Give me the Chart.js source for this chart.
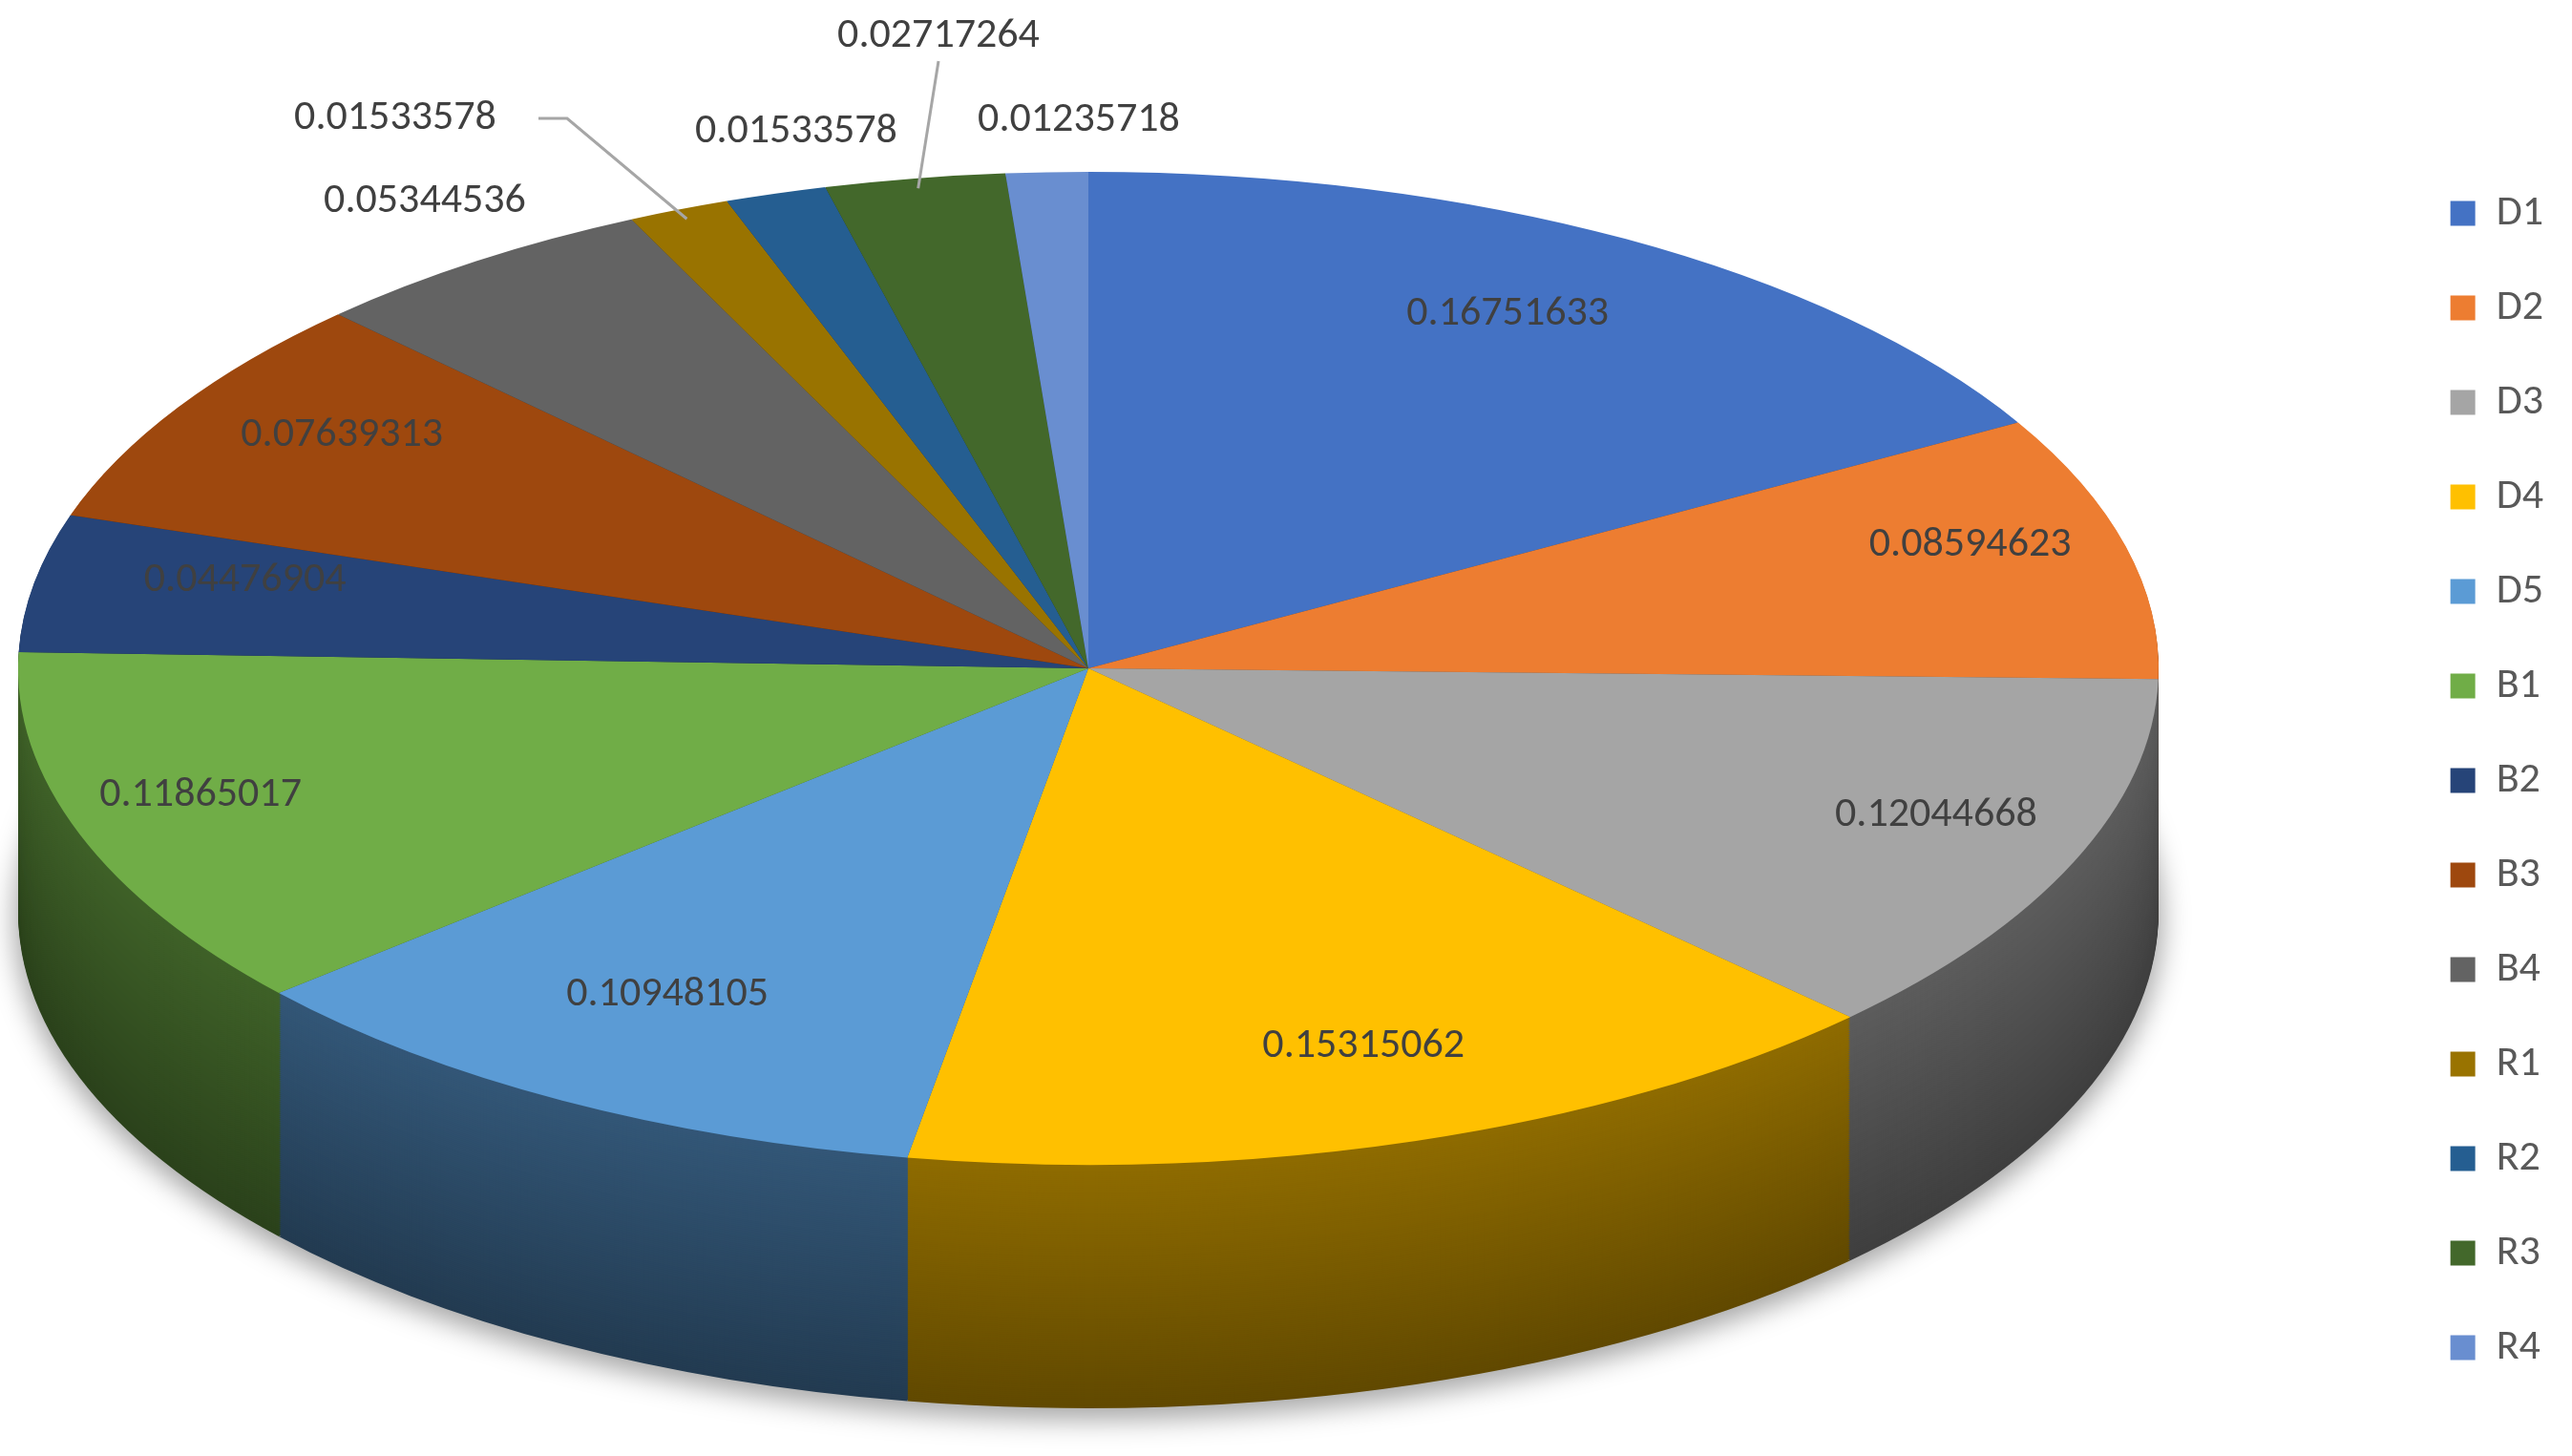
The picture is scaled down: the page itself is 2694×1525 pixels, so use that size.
<!DOCTYPE html>
<html><head><meta charset="utf-8">
<script src="https://cdn.jsdelivr.net/npm/chart.js@4/dist/chart.umd.min.js"></script>
<style>html,body{margin:0;padding:0;background:#fff}#wrap{width:2694px;height:1525px}</style>
</head><body><div id="wrap"><canvas id="c"></canvas></div>
<script>
const categories = ['D1','D2','D3','D4','D5','B1','B2','B3','B4','R1','R2','R3','R4'];
const values = [0.16751633,0.08594623,0.12044668,0.15315062,0.10948105,0.11865017,0.04476904,0.07639313,0.05344536,0.01533578,0.01533578,0.02717264,0.01235718];
const valueLabels = ['0.16751633','0.08594623','0.12044668','0.15315062','0.10948105','0.11865017','0.04476904','0.07639313','0.05344536','0.01533578','0.01533578','0.02717264','0.01235718'];
const colors = ['#4472C4','#ED7D31','#A5A5A5','#FFC000','#5B9BD5','#70AD47','#264478','#9E480E','#636363','#997300','#255E91','#43682B','#698ED0'];

const E = {cx:1140, cy:700, rx:1121, ry:520, depth:255};
function dark(hex, f){const n=parseInt(hex.slice(1),16);const r=(n>>16)&255,g=(n>>8)&255,b=n&255;return `rgb(${Math.round(r*f)},${Math.round(g*f)},${Math.round(b*f)})`;}
function tf(ctx, a){const s=E.rx/a.outerRadius, t=E.ry/a.outerRadius;
  ctx.translate(E.cx,E.cy); ctx.scale(s,t); ctx.translate(-a.x,-a.y);}
function toScreen(a, px, py){return [E.cx+(px-a.x)*E.rx/a.outerRadius, E.cy+(py-a.y)*E.ry/a.outerRadius];}

const outside = {8:[445,211,false],9:[414,124,true],10:[834,138,false],11:[983,38,true],12:[1130,126,false]};
const labelR = [0.78,0.85,0.86,0.84,0.8,0.88,0.8,0.82];
const pie3d = {
  id:'pie3d',
  beforeDatasetsDraw(chart){
    const ctx=chart.ctx, arcs=chart.getDatasetMeta(0).data;
    const a0=arcs[0];
    ctx.save();
    ctx.save(); ctx.filter='blur(14px)'; ctx.fillStyle='rgba(0,0,0,0.35)';
    ctx.beginPath(); ctx.ellipse(E.cx,E.cy+E.depth+8,E.rx+4,E.ry+4,0,0,Math.PI*2); ctx.fill(); ctx.restore();
    const scaleY=E.ry/a0.outerRadius;
    for(let d=E.depth; d>0; d-=2){
      const f=0.38+0.18*(1-d/E.depth);
      arcs.forEach((a,i)=>{
        ctx.save(); tf(ctx,a); ctx.translate(0,d/scaleY);
        ctx.beginPath(); ctx.moveTo(a.x,a.y); ctx.arc(a.x,a.y,a.outerRadius,a.startAngle,a.endAngle); ctx.closePath();
        ctx.fillStyle=dark(colors[i],f); ctx.fill(); ctx.restore();
      });
    }
    tf(ctx,a0);
  },
  afterDatasetsDraw(chart){
    const ctx=chart.ctx; ctx.restore();
    const arcs=chart.getDatasetMeta(0).data;
    ctx.save(); ctx.font='44px Calibri, Carlito, "Open Sans", sans-serif'; ctx.textAlign='center'; ctx.textBaseline='middle';
    arcs.forEach((a,i)=>{
      const m=(a.startAngle+a.endAngle)/2;
      if(outside[i]){
        const [x,y,line]=outside[i];
        if(line){const [sx,sy]=toScreen(a,a.x+Math.cos(m)*a.outerRadius*0.98,a.y+Math.sin(m)*a.outerRadius*0.98);
          ctx.strokeStyle='#A6A6A6'; ctx.lineWidth=3; ctx.beginPath();
          if(i===9){ctx.moveTo(x+150,y);ctx.lineTo(x+180,y);ctx.lineTo(sx,sy);} else {ctx.moveTo(x,y+26);ctx.lineTo(sx,sy);}
          ctx.stroke();}
        ctx.fillStyle='#404040'; ctx.fillText(valueLabels[i],x,y); return;
      }
      const r=labelR[i];
      const [x,y]=toScreen(a,a.x+Math.cos(m)*a.outerRadius*r,a.y+Math.sin(m)*a.outerRadius*r);
      ctx.fillStyle='#404040'; ctx.fillText(valueLabels[i],x,y-20);
    });
    ctx.restore();
  }
};
new Chart(document.getElementById('c'),{
  type:'pie',
  data:{labels:categories,datasets:[{data:values,backgroundColor:colors,borderWidth:0,clip:false}]},
  options:{responsive:true,maintainAspectRatio:false,animation:false,
    layout:{padding:{top:110,right:20}},
    plugins:{tooltip:{enabled:false},
      legend:{position:'right',labels:{boxWidth:26,boxHeight:26,padding:55,color:'#595959',font:{size:44,family:'Calibri, Carlito, "Open Sans", sans-serif'}}}}},
  plugins:[pie3d]
});
</script></body></html>
